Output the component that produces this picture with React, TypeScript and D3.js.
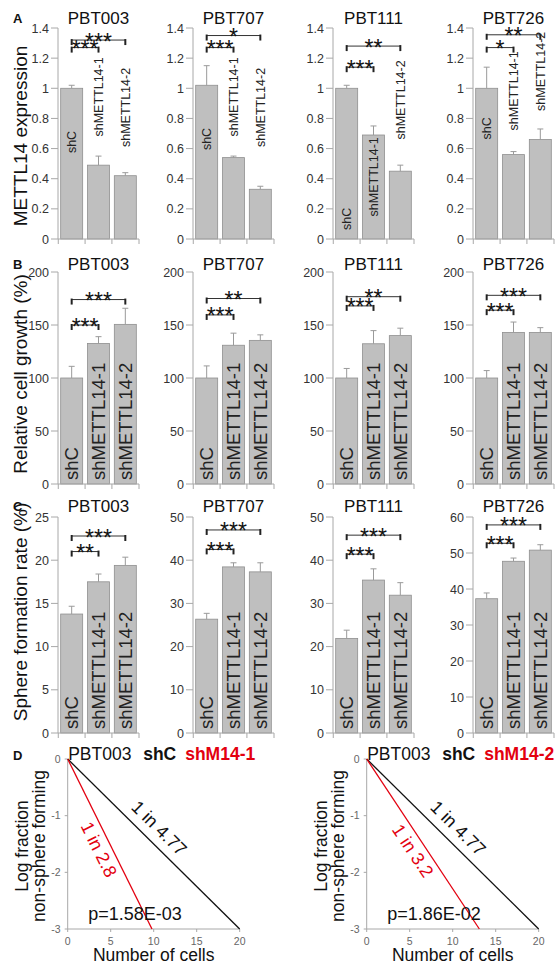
import React from "react";
import * as d3 from "d3";

// ---- data ----
const cellLines = ["PBT003", "PBT707", "PBT111", "PBT726"];
const groups = ["shC", "shMETTL14-1", "shMETTL14-2"];

// A: METTL14 expression
const expressionMean = [
  [1.0, 0.49, 0.42],
  [1.02, 0.54, 0.33],
  [1.0, 0.69, 0.45],
  [1.0, 0.56, 0.66],
];
const expressionErr = [
  [0.02, 0.06, 0.02],
  [0.13, 0.01, 0.02],
  [0.02, 0.06, 0.04],
  [0.14, 0.02, 0.07],
];
const expressionSig = [
  ["***", "***"],
  ["***", "*"],
  ["***", "**"],
  ["*", "**"],
];
const expressionTicks = [0, 0.2, 0.4, 0.6, 0.8, 1, 1.2, 1.4];

// B: relative cell growth
const growthMean = [
  [100, 132.6, 150.6],
  [100, 130.9, 135.5],
  [100, 132.3, 140],
  [100, 143, 143],
];
const growthErr = [
  [11, 6.4, 15.2],
  [11.4, 11.4, 5.2],
  [9, 12.4, 7],
  [7, 9.8, 4.5],
];
const growthSig = [
  ["***", "***"],
  ["***", "**"],
  ["***", "**"],
  ["***", "***"],
];
const growthTicks = [0, 50, 100, 150, 200];

// C: sphere formation rate
const sphereMean = [
  [13.77, 17.5, 19.4],
  [26.35, 38.45, 37.3],
  [21.9, 35.4, 31.9],
  [37.3, 47.7, 50.8],
];
const sphereErr = [
  [0.9, 0.9, 0.95],
  [1.35, 0.95, 2.1],
  [1.9, 2.6, 2.9],
  [1.6, 0.9, 1.5],
];
const sphereSig = [
  ["**", "***"],
  ["***", "***"],
  ["***", "***"],
  ["***", "***"],
];
const sphereTicks = [
  [0, 5, 10, 15, 20, 25],
  [0, 10, 20, 30, 40, 50],
  [0, 10, 20, 30, 40, 50],
  [0, 10, 20, 30, 40, 50, 60],
];

// D: limiting dilution (end points of fitted lines)
const ldaCellsShC = [0, 20];
const ldaLogShC = [0, -3];
const ldaCellsShM1 = [0, 9.8];
const ldaLogShM1 = [0, -3];
const ldaCellsShM2 = [0, 13.1];
const ldaLogShM2 = [0, -3];
const ldaXTicks = [0, 5, 10, 15, 20];
const ldaYTicks = [0, -1, -2, -3];
const ldaShCFreq = "1 in 4.77";
const ldaKnockdown = ["shM14-1", "shM14-2"];
const ldaKnockdownFreq = ["1 in 2.8", "1 in 3.2"];
const ldaPValues = ["p=1.58E-03", "p=1.86E-02"];

// ---- layout ----
const FONT = "'Liberation Sans', Arial, Helvetica, sans-serif";
const AXIS = "#a8a8a8";
const TXT = "#333";
const RED = "#e3000f";
const panelX = [58, 193, 333, 473];
const panelW = 81;

// bracket heights (data units) and label bases for row A
const expressionBrackets = [
  [1.27, 1.32],
  [1.27, 1.35],
  [1.14, 1.28],
  [1.27, 1.355],
];
const expressionLabelAt = [
  [0.57, 0.68, 0.61],
  [0.59, 0.68, 0.61],
  [0.06, 0.15, 0.66],
  [0.66, 0.72, 0.85],
];
const growthBrackets = [
  [150, 174],
  [159.5, 175],
  [168, 176.7],
  [164, 178],
];
const sphereBrackets = [
  [21, 22.8],
  [42.5, 47],
  [41.4, 45.8],
  [52.7, 57.8],
];

type Row = {
  letter: string;
  ylabel: string;
  top: number;
  bottom: number;
  titleY: number;
  labelMid: number;
  means: number[][];
  errs: number[][];
  sig: string[][];
  brackets: number[][];
  ticks: number[][];
  labelSize: number;
  labelAt: number[][] | null;
};

const rows: Row[] = [
  {
    letter: "A",
    ylabel: "METTL14 expression",
    top: 28,
    bottom: 239,
    titleY: 24,
    labelMid: 136,
    means: expressionMean,
    errs: expressionErr,
    sig: expressionSig,
    brackets: expressionBrackets,
    ticks: cellLines.map(() => expressionTicks),
    labelSize: 12.5,
    labelAt: expressionLabelAt,
  },
  {
    letter: "B",
    ylabel: "Relative cell growth (%)",
    top: 272,
    bottom: 484,
    titleY: 270,
    labelMid: 374,
    means: growthMean,
    errs: growthErr,
    sig: growthSig,
    brackets: growthBrackets,
    ticks: cellLines.map(() => growthTicks),
    labelSize: 18.5,
    labelAt: null,
  },
  {
    letter: "C",
    ylabel: "Sphere formation rate (%)",
    top: 517,
    bottom: 733,
    titleY: 512,
    labelMid: 612,
    means: sphereMean,
    errs: sphereErr,
    sig: sphereSig,
    brackets: sphereBrackets,
    ticks: sphereTicks,
    labelSize: 18.5,
    labelAt: null,
  },
];

const fmt = d3.format("~g");

function BarPanel({ row, i }: { row: Row; i: number }) {
  const x0 = panelX[i];
  const ticks = row.ticks[i];
  const y = d3
    .scaleLinear()
    .domain([0, ticks[ticks.length - 1]])
    .range([row.bottom, row.top]);
  const x = d3
    .scaleBand()
    .domain(groups)
    .range([x0, x0 + panelW])
    .paddingInner(0.18)
    .paddingOuter(0.1);
  const bw = x.bandwidth();
  const step = x.step();
  const cx = (g: string) => (x(g) as number) + bw / 2;
  const sepX = groups.map((g) => (x(g) as number) - (step - bw) / 2).concat([x0 + panelW]);

  const bracketPairs: [number, number][] = [
    [0, 1],
    [0, 2],
  ];

  return (
    <g>
      <text x={x0 + panelW / 2} y={row.titleY} fontSize={17} textAnchor="middle" fill="#111">
        {cellLines[i]}
      </text>
      {/* bars */}
      {groups.map((g, k) => (
        <rect
          key={g}
          x={x(g)}
          y={y(row.means[i][k])}
          width={bw}
          height={y(0) - y(row.means[i][k])}
          fill="#bfbfbf"
          stroke="#8f8f8f"
          strokeWidth={0.8}
        />
      ))}
      {/* error bars */}
      {groups.map((g, k) => {
        const yt = y(row.means[i][k] + row.errs[i][k]);
        return (
          <g key={g} stroke="#9a9a9a" strokeWidth={1}>
            <line x1={cx(g)} x2={cx(g)} y1={y(row.means[i][k])} y2={yt} />
            <line x1={cx(g) - 3} x2={cx(g) + 3} y1={yt} y2={yt} />
          </g>
        );
      })}
      {/* bar labels */}
      {groups.map((g, k) => {
        const ty = row.labelAt ? y(row.labelAt[i][k]) : y(0) - 4;
        const tx = cx(g) + row.labelSize * 0.36;
        return (
          <text
            key={g}
            transform={`translate(${tx},${ty}) rotate(-90)`}
            fontSize={row.labelSize}
            fill="#222"
          >
            {g}
          </text>
        );
      })}
      {/* axes */}
      <line x1={x0} x2={x0} y1={y(0)} y2={row.top} stroke={AXIS} />
      <line x1={x0} x2={x0 + panelW} y1={y(0)} y2={y(0)} stroke={AXIS} />
      {sepX.map((sx, k) => (
        <line key={k} x1={sx} x2={sx} y1={y(0)} y2={y(0) + 5} stroke={AXIS} />
      ))}
      {ticks.map((t) => (
        <g key={t}>
          <line x1={x0 - 7} x2={x0} y1={y(t)} y2={y(t)} stroke={AXIS} />
          <text x={x0 - 9} y={y(t) + 4.5} fontSize={12.5} textAnchor="end" fill={TXT}>
            {fmt(t)}
          </text>
        </g>
      ))}
      {/* significance brackets */}
      {bracketPairs.map(([a, b], k) => {
        const by = y(row.brackets[i][k]);
        const xa = cx(groups[a]);
        const xb = cx(groups[b]);
        return (
          <g key={k}>
            <line x1={xa} x2={xb} y1={by} y2={by} stroke="#333" strokeWidth={1} />
            <line x1={xa} x2={xa} y1={by - 1} y2={by + 5} stroke="#222" strokeWidth={2} />
            <line x1={xb} x2={xb} y1={by - 1} y2={by + 5} stroke="#222" strokeWidth={2} />
            <text x={(xa + xb) / 2} y={by + 9.5} fontSize={23} textAnchor="middle" fill="#111">
              {row.sig[i][k]}
            </text>
          </g>
        );
      })}
    </g>
  );
}

function RowLabels({ row }: { row: Row }) {
  return (
    <g>
      <text x={13} y={row.titleY - 1} fontSize={13} fontWeight="bold" fill="#111">
        {row.letter}
      </text>
      <text
        transform={`translate(26.5,${row.labelMid}) rotate(-90)`}
        fontSize={19}
        textAnchor="middle"
        fill="#111"
      >
        {row.ylabel}
      </text>
    </g>
  );
}

function LdaPanel({ j, x0 }: { j: number; x0: number }) {
  const top = 759;
  const bottom = 929;
  const xs = d3.scaleLinear().domain([0, 20]).range([x0, x0 + 172]);
  const ys = d3.scaleLinear().domain([-3, 0]).range([bottom, top]);
  const line = d3
    .line<[number, number]>()
    .x((d) => xs(d[0]))
    .y((d) => ys(d[1]));
  const shC: [number, number][] = ldaCellsShC.map((c, k) => [c, ldaLogShC[k]]);
  const kd: [number, number][] =
    j === 0
      ? ldaCellsShM1.map((c, k) => [c, ldaLogShM1[k]])
      : ldaCellsShM2.map((c, k) => [c, ldaLogShM2[k]]);

  // label placed along a fitted line
  const along = (pts: [number, number][], t: number, dy: number, txt: string, color: string) => {
    const [p0, p1] = pts;
    const ax = xs(p0[0]);
    const ay = ys(p0[1]);
    const bx = xs(p1[0]);
    const by = ys(p1[1]);
    const ang = (Math.atan2(by - ay, bx - ax) * 180) / Math.PI;
    const px = ax + (bx - ax) * t;
    const py = ay + (by - ay) * t;
    return (
      <text
        transform={`translate(${px},${py}) rotate(${ang})`}
        y={dy}
        fontSize={18}
        textAnchor="middle"
        fill={color}
      >
        {txt}
      </text>
    );
  };

  return (
    <g>
      <text x={x0 + 0.5} y={760} fontSize={17.5} fill="#111">
        PBT003
      </text>
      <text x={x0 + 75.5} y={760} fontSize={17.5} fontWeight="bold" fill="#111">
        shC
      </text>
      <text x={x0 + 117.5} y={760} fontSize={17.5} fontWeight="bold" fill={RED}>
        {ldaKnockdown[j]}
      </text>
      {/* axes */}
      <line x1={x0} x2={x0} y1={top} y2={bottom} stroke={AXIS} />
      <line x1={x0} x2={xs(20)} y1={bottom} y2={bottom} stroke={AXIS} />
      {ldaYTicks.map((t) => (
        <g key={t}>
          <line x1={x0 - 3} x2={x0} y1={ys(t)} y2={ys(t)} stroke={AXIS} />
          <text x={x0 - 7} y={ys(t) + 3.8} fontSize={10.5} textAnchor="end" fill="#666">
            {t}
          </text>
        </g>
      ))}
      {ldaXTicks.map((t) => (
        <g key={t}>
          <line x1={xs(t)} x2={xs(t)} y1={bottom} y2={bottom + 3} stroke={AXIS} />
          <text x={xs(t)} y={945} fontSize={10.5} textAnchor="middle" fill="#666">
            {t}
          </text>
        </g>
      ))}
      <text x={(x0 + xs(20)) / 2} y={961} fontSize={17.5} textAnchor="middle" fill="#111">
        Number of cells
      </text>
      <text transform={`translate(${x0 - 40},846) rotate(-90)`} fontSize={17.5} textAnchor="middle" fill="#111">
        Log fraction
      </text>
      <text transform={`translate(${x0 - 23},846) rotate(-90)`} fontSize={17.5} textAnchor="middle" fill="#111">
        non-sphere forming
      </text>
      {/* fitted lines */}
      <path d={line(shC) || ""} stroke="#111" strokeWidth={1.3} fill="none" />
      <path d={line(kd) || ""} stroke={RED} strokeWidth={1.3} fill="none" />
      {along(shC, 0.47, -9, ldaShCFreq, "#111")}
      {along(kd, 0.5, 18.5, ldaKnockdownFreq[j], RED)}
      <text x={x0 + 20.5} y={920} fontSize={18} fill="#111">
        {ldaPValues[j]}
      </text>
    </g>
  );
}

export default function App() {
  return (
    <svg
      width={556}
      height={967}
      viewBox="0 0 556 967"
      style={{ position: "absolute", left: 0, top: 0, display: "block", background: "#fff" }}
      fontFamily={FONT}
    >
      <rect width={556} height={967} fill="#fff" />
      {rows.map((row) => (
        <g key={row.letter}>
          <RowLabels row={row} />
          {cellLines.map((c, i) => (
            <BarPanel key={c} row={row} i={i} />
          ))}
        </g>
      ))}
      <text x={13} y={760} fontSize={13} fontWeight="bold" fill="#111">
        D
      </text>
      <LdaPanel j={0} x0={67.7} />
      <LdaPanel j={1} x0={366.7} />
    </svg>
  );
}
